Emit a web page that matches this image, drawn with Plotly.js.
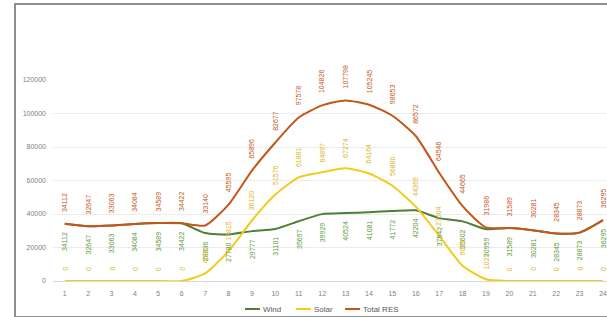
<!DOCTYPE html>
<html><head><meta charset="utf-8">
<script src="https://cdn.plot.ly/plotly-3.0.1.min.js"></script>
<style>
html,body{margin:0;padding:0;background:#fff;}
#wrap{position:relative;width:607px;height:317px;overflow:hidden;}
#chart{position:absolute;left:0;top:0;width:607px;height:317px;}
#frame{position:absolute;left:14px;top:3px;width:600px;height:311px;border-left:2px solid #8f8f8f;border-top:2px solid #8f8f8f;border-bottom:2px solid #8f8f8f;pointer-events:none;}
</style></head>
<body><div id="wrap"><div id="chart"></div><div id="frame"></div></div>
<script>
const hours = [1,2,3,4,5,6,7,8,9,10,11,12,13,14,15,16,17,18,19,20,21,22,23,24];
const wind = [34112,32647,33063,34084,34589,34422,28636,27780,29777,31101,35697,39929,40524,41081,41772,42204,37542,35602,30959,31589,30281,28345,28873,36295];
const solar = [0,0,0,0,0,0,4504,17815,36120,51576,61881,64897,67274,64164,56880,44369,27004,9063,1027,0,0,0,0,0];
const totalRES = [34112,32647,33063,34084,34589,34422,33140,45595,65896,82677,97578,104826,107798,105245,98653,86572,64546,44665,31986,31589,30281,28345,28873,36295];
const seriesNames = ['Wind','Solar','Total RES'];
const colors = ['#4f7f35','#f2cc1c','#c4561a'];
const labelColors = ['#5a9a3a','#d9b520','#c4561a'];

const series = [wind, solar, totalRES];
const traces = series.map((s,i)=>({
  x: hours, y: s, type:'scatter', mode:'lines', name: seriesNames[i],
  line:{color:colors[i], width:2, shape:'spline', smoothing:0.6}, cliponaxis:false, showlegend:false
}));

const annotations = [];
series.forEach((s,i)=>{
  s.forEach((v,j)=>{
    const below = (i===0);
    annotations.push({
      x: hours[j], y: v, xref:'x', yref:'y', text: String(v), showarrow:false,
      textangle:-90, font:{size:7, color:labelColors[i], family:'Liberation Sans, Arial, sans-serif'},
      yanchor: below ? 'top' : 'bottom', xanchor:'center',
      yshift: below ? -6 : (i===1 ? 8 : 10)
    });
  });
});

// manual legend (plot area spans 53..607 px horizontally, 80..281 px vertically)
const plotL = 53, plotW = 554, plotT = 80, plotH = 201;
const px = v => (v - plotL) / plotW;
const py = v => (plotT + plotH - v) / plotH;
const legendStarts = [245, 296, 345];
const legendY = 309;
const shapes = [];
seriesNames.forEach((n,i)=>{
  shapes.push({type:'line', xref:'paper', yref:'paper', x0:px(legendStarts[i]), x1:px(legendStarts[i]+15),
    y0:py(legendY), y1:py(legendY), line:{color:colors[i], width:2}});
  annotations.push({xref:'paper', yref:'paper', x:px(legendStarts[i]+16), y:py(legendY), text:n,
    showarrow:false, xanchor:'left', yanchor:'middle', font:{size:8, color:'#595959'}});
});

const layout = {
  width:607, height:317,
  margin:{l:53, r:0, t:80, b:36, autoexpand:false},
  paper_bgcolor:'#fff', plot_bgcolor:'#fff',
  font:{family:'Liberation Sans, Arial, sans-serif', size:7, color:'#7f7f7f'},
  showlegend:false,
  xaxis:{range:[0.5,24.17], tickmode:'array', tickvals:hours, ticktext:hours.map(String),
    showgrid:false, zeroline:false, showline:true, linecolor:'#d9d9d9', linewidth:1,
    ticks:'', ticklabelstandoff:6, ticklabeloverflow:'allow', tickfont:{size:7, color:'#808080'}, fixedrange:true, automargin:false},
  yaxis:{range:[0,120000], dtick:20000, tickformat:'d', showgrid:true, gridcolor:'#ececec',
    zeroline:false, showline:false, ticks:'', ticklabelstandoff:6, tickfont:{size:7, color:'#808080'}, fixedrange:true, automargin:false},
  shapes: shapes,
  annotations: annotations
};
Plotly.newPlot('chart', traces, layout, {staticPlot:true, displayModeBar:false});
</script></body></html>
